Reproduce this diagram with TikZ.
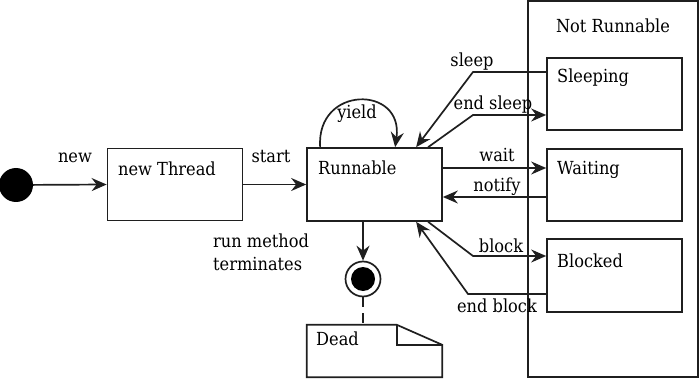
\documentclass[tikz,border=0pt]{standalone}
\usepackage{fontspec}
\setmainfont{DejaVu Serif}[FakeStretch=0.9]
\usetikzlibrary{arrows.meta,calc}
\begin{document}
\begin{tikzpicture}[x=1pt,y=-1pt,
  every node/.style={font=\fontsize{18}{23}\selectfont},
  ln/.style={line width=1.7pt,draw=black!88},
  arr/.style={ln,-{Stealth[length=15pt,width=13pt,inset=5pt]}},
  statebox/.style={ln,rectangle,minimum width=135pt,minimum height=72pt,inner sep=0pt},
  lbl/.style={anchor=base,inner sep=0pt},
  inlbl/.style={anchor=base west,inner sep=0pt}]
\useasboundingbox (0,0) rectangle (700,379);
% Not Runnable container
\node[ln,rectangle,minimum width=170pt,minimum height=376pt,inner sep=0pt] (notrun) at (613,189) {};
\node[lbl] (notrunlbl) at (613,33) {Not Runnable};
% states
\node[circle,fill=black,minimum size=34pt,inner sep=0pt] (init) at (16,185) {};
\node[statebox] (newthread) at (175,184.5) {};
\node[inlbl] at (118,176) {new Thread};
\node[statebox,minimum height=73pt] (runnable) at (374.5,184.5) {};
\node[inlbl] at (318,175) {Runnable};
\node[statebox] (sleeping) at (614.5,94) {};
\node[inlbl] at (557,83) {Sleeping};
\node[statebox] (waiting) at (614.5,185) {};
\node[inlbl] at (557,175) {Waiting};
\node[statebox,minimum height=73pt] (blocked) at (614.5,275.5) {};
\node[inlbl] at (557,267) {Blocked};
% final state
\node[circle,ln,fill=white,minimum size=35pt,inner sep=0pt] (final) at (363,279) {};
\node[circle,fill=black,minimum size=24pt,inner sep=0pt] at (final) {};
% Dead note
\node[minimum width=135pt,minimum height=52pt,inner sep=0pt] (dead) at (374.5,351) {};
\draw[ln] (dead.north west) -- ++(90,0) coordinate (fold) -- ($(dead.north east)+(0,20)$) coordinate (foldb) -- (dead.south east) -- (dead.south west) -- cycle;
\draw[ln] (fold) -- (fold |- foldb) -- (foldb);
\node[inlbl] at (316,345) {Dead};
% connectors
\draw[arr] (init) -- (newthread.west);
\node[lbl] at (75,163) {new};
\draw[arr] (newthread.east) -- (runnable.west);
\node[lbl] at (271,163) {start};
% yield loop
\draw[arr] ([xshift=14pt]runnable.north west) .. controls (316,85) and (404,85) .. ([xshift=89pt]runnable.north west);
\node[lbl] at (357,119) {yield};
% sleep
\coordinate (sl1) at (473,72);
\draw[arr] (sleeping.west |- sl1) -- (sl1) -- ([xshift=110pt]runnable.north west);
\node[lbl] at (472,67) {sleep};
% end sleep
\coordinate (es1) at (473,115);
\draw[arr] ([xshift=122pt]runnable.north west) -- (es1) -- (sleeping.west |- es1);
\node[lbl] at (493,110) {end sleep};
% wait / notify
\coordinate (w1) at (442,168);
\draw[arr] (runnable.east |- w1) -- (waiting.west |- w1);
\node[lbl] at (497,162) {wait};
\coordinate (n1) at (442,197);
\draw[arr] (waiting.west |- n1) -- (runnable.east |- n1);
\node[lbl] at (497,192) {notify};
% block / end block
\coordinate (b1) at (473,256);
\draw[arr] ([xshift=122pt]runnable.south west) -- (b1) -- (blocked.west |- b1);
\node[lbl] at (501,252) {block};
\coordinate (eb1) at (468,294);
\draw[arr] (blocked.west |- eb1) -- (eb1) -- ([xshift=110pt]runnable.south west);
\node[lbl] at (497,312) {end block};
% terminate
\draw[arr] (runnable.south -| final) -- (final.north);
\node[inlbl] at (213,247) {run method};
\node[inlbl] at (213,270) {terminates};
\draw[ln,dash pattern=on 10pt off 6pt] (final.south) -- (dead.north -| final);
\end{tikzpicture}
\end{document}
